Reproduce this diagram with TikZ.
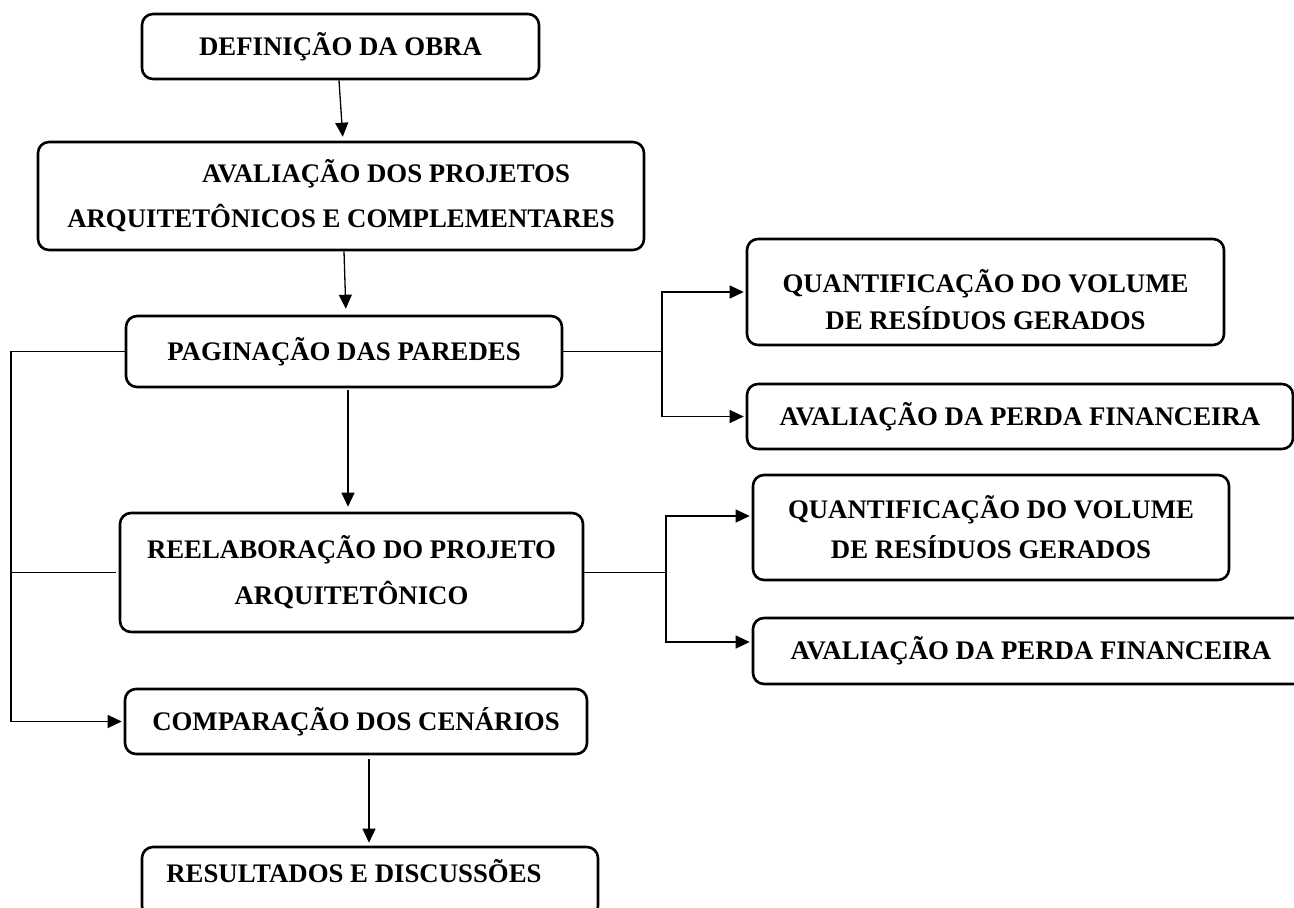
\documentclass[tikz,border=0pt]{standalone}
\usepackage{fontspec}
\setmainfont{Liberation Serif}
\usetikzlibrary{arrows.meta}
\begin{document}
\begin{tikzpicture}[x=1pt,y=-1pt,
  box/.style={draw, line width=2.6pt, rounded corners=11pt, inner sep=0pt, align=center,
    font=\fontsize{26.8}{45}\selectfont\bfseries},
  conn/.style={line width=1.3pt},
  arr/.style={conn, -{Triangle[length=14pt,width=13pt]}, shorten >=2pt}]
\useasboundingbox (0,0) rectangle (1294,908);
\clip (0,0) rectangle (1294,908);
% boxes
\node[box, minimum width=397pt, minimum height=65pt] (def) at (340.5,46.5) {DEFINIÇÃO DA OBRA};
\node[box, minimum width=606pt, minimum height=108pt] (aval) at (341,196) {\hspace*{90pt}AVALIAÇÃO DOS PROJETOS\\ARQUITETÔNICOS E COMPLEMENTARES};
\node[box, minimum width=436pt, minimum height=71pt] (pag) at (344,351.5) {\rule[-6pt]{0pt}{1pt}PAGINAÇÃO DAS PAREDES};
\node[box, minimum width=477pt, minimum height=106pt, font=\fontsize{26.8}{37}\selectfont\bfseries] (q1) at (985.5,292) {\rule{0pt}{39pt}QUANTIFICAÇÃO DO VOLUME\\DE RESÍDUOS GERADOS};
\node[box, minimum width=546pt, minimum height=65pt] (f1) at (1020,416.5) {AVALIAÇÃO DA PERDA FINANCEIRA};
\node[box, minimum width=463pt, minimum height=119pt, font=\fontsize{26.8}{46}\selectfont\bfseries] (reel) at (351.5,572.5) {REELABORAÇÃO DO PROJETO\\ARQUITETÔNICO};
\node[box, minimum width=476pt, minimum height=105pt, font=\fontsize{26.8}{40}\selectfont\bfseries] (q2) at (991,527.5) {QUANTIFICAÇÃO DO VOLUME\\DE RESÍDUOS GERADOS};
\node[box, minimum width=556pt, minimum height=66pt] (f2) at (1031,651) {AVALIAÇÃO DA PERDA FINANCEIRA};
\node[box, minimum width=462pt, minimum height=65pt] (comp) at (356,721.5) {COMPARAÇÃO DOS CENÁRIOS};
\node[box, minimum width=456pt, minimum height=70pt] (res) at (370,882) {\rule[-22pt]{0pt}{1pt}RESULTADOS E DISCUSSÕES\hspace*{32pt}};
% main vertical arrows
\draw[arr, shorten >=4pt] ([xshift=-1.5pt]def.south) -- ([xshift=2pt]aval.north);
\draw[arr, shorten >=6pt] ([xshift=3pt]aval.south) -- ([xshift=2pt]pag.north);
\draw[arr, shorten <=2pt, shorten >=5pt] ([xshift=4pt]pag.south) -- ([xshift=-3.5pt]reel.north);
\draw[arr, shorten <=4pt, shorten >=3pt] ([xshift=13pt]comp.south) -- ([xshift=-1pt]res.north);
% right branches
\coordinate (j1) at (662,351.5);
\coordinate (j2) at (666,572.5);
\draw[conn] (pag.east) -- (j1);
\draw[arr] (j1) |- (q1.west);
\draw[arr] (j1) |- (f1.west);
\draw[conn] (reel.east) -- (j2);
\draw[arr] (j2) |- ([yshift=11.5pt]q2.west);
\draw[arr] (j2) |- ([yshift=9pt]f2.west);
% left feedback
\coordinate (lft) at (11,600);
\draw[arr] (pag.west) -| (lft) |- (comp.west);
\draw[conn, shorten <=3pt] (reel.west) -- (reel.west -| lft);
\end{tikzpicture}
\end{document}
